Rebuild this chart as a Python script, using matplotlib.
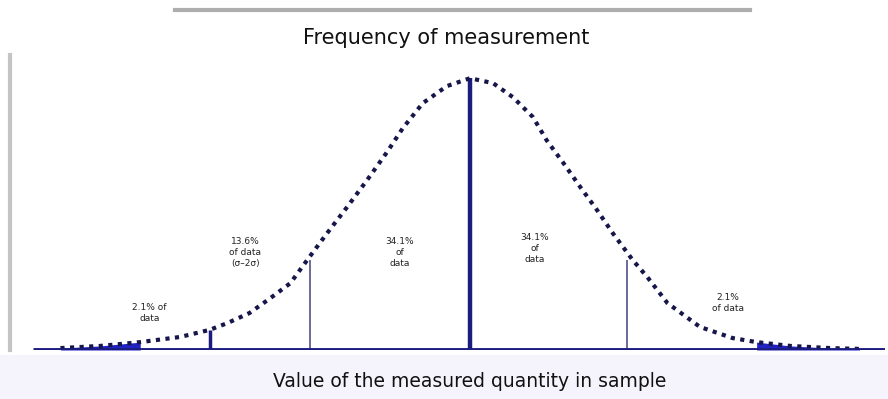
import numpy as np
import matplotlib
matplotlib.use("Agg")
import matplotlib.pyplot as plt
from matplotlib.lines import Line2D
from matplotlib.patches import Rectangle

# ---- data (x in standard deviations, y = relative frequency) ----
curve_x = [-3.90, -3.52, -3.14, -2.76, -2.48, -2.31, -2.10, -1.90, -1.71, -1.55,
           -1.36, -1.17, -0.98, -0.79, -0.64, -0.45, -0.22, 0.00, 0.22, 0.41,
           0.60, 0.73, 0.89, 1.05, 1.21, 1.36, 1.55, 1.69, 1.88, 2.19,
           2.50, 2.73, 3.05, 3.43, 3.71]
curve_y = [0.007, 0.015, 0.029, 0.048, 0.074, 0.099, 0.136, 0.191, 0.246, 0.331,
           0.430, 0.526, 0.625, 0.728, 0.816, 0.908, 0.971, 1.000, 0.982, 0.930,
           0.857, 0.772, 0.688, 0.600, 0.515, 0.430, 0.331, 0.268, 0.173, 0.085,
           0.044, 0.029, 0.015, 0.007, 0.004]

marker_x = [-2.48, -1.52, 0.00, 1.50]
marker_h = [0.074, 0.330, 1.000, 0.330]

region_x = [-3.05, -2.14, -0.67, 0.62, 2.46]
region_y = [0.173, 0.415, 0.415, 0.430, 0.210]
region_labels = ["2.1% of\ndata", "13.6%\nof data\n(σ–2σ)", "34.1%\nof\ndata",
                 "34.1%\nof\ndata", "2.1%\nof data"]

tail_limit = 2.7

title_text = "Frequency of measurement"
xlabel_text = "Value of the measured quantity in sample"

NAVY = "#1c1c7e"
DOTS = "#16164a"

fig = plt.figure(figsize=(8.88, 3.99), dpi=100)
fig.patch.set_facecolor("white")

# light band under the baseline
fig.add_artist(Rectangle((0, 0), 1, 0.11, transform=fig.transFigure,
                         facecolor="#f5f4fd", edgecolor="none", zorder=0))
# header rule
fig.add_artist(Line2D([0.197, 0.845], [0.975, 0.975], transform=fig.transFigure,
                      color="#9a9a9a", lw=3, alpha=0.8))

ax = fig.add_axes([0.0113, 0.1228, 0.985, 0.739])
ax.set_facecolor("none")
ax.set_xlim(-4.38, 3.95)
ax.set_ylim(0, 1.085)

cx = np.array(curve_x)
cy = np.array(curve_y)

# blue tails
ax.fill_between(cx, 0, cy, where=cx <= -tail_limit - 0.3, color="#2222c4", lw=0, zorder=2)
ax.fill_between(cx, 0, cy, where=cx >= tail_limit, color="#2222c4", lw=0, zorder=2)

# the curve
ax.plot(cx, cy, color=DOTS, lw=3, linestyle=(0, (1, 1.3)), zorder=4)

# vertical markers
widths = [2.5, 1.4, 3.2, 1.4]
colors = [NAVY, "#6a6a9c", NAVY, "#6a6a9c"]
for xv, h, w, c in zip(marker_x, marker_h, widths, colors):
    ax.vlines(xv, 0, h, color=c, lw=w, zorder=3)

# baseline
ax.hlines(0, -4.16, 3.95, color=NAVY, lw=3.5, zorder=5)

for xv, yv, t in zip(region_x, region_y, region_labels):
    ax.text(xv, yv, t, ha="center", va="top", fontsize=6.5, color="#222222",
            linespacing=1.3)

for s in ["top", "right", "bottom"]:
    ax.spines[s].set_visible(False)
ax.spines["left"].set_color("#c4c4c4")
ax.spines["left"].set_linewidth(3)
ax.set_xticks([])
ax.set_yticks([])

fig.text(0.503, 0.905, title_text, ha="center", va="center", fontsize=15,
         color="#111111")
fig.text(0.529, 0.043, xlabel_text, ha="center", va="center", fontsize=13.5,
         color="#111111")

fig.savefig("out.png", dpi=100)
